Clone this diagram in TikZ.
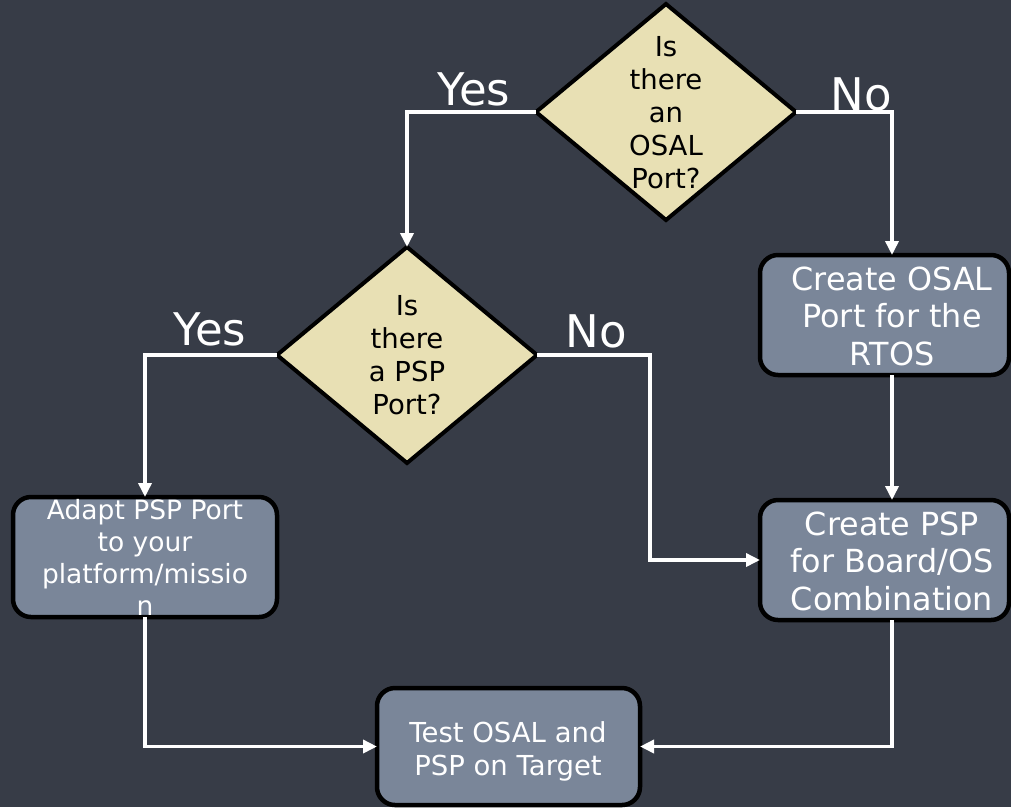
\documentclass[tikz,border=0pt]{standalone}
\usepackage{fontspec}
\setmainfont{DejaVu Sans}
\usetikzlibrary{shapes.geometric,arrows.meta}
\definecolor{bg}{HTML}{373C47}
\definecolor{boxfill}{HTML}{7A8699}
\definecolor{dfill}{HTML}{E8E0B4}
\begin{document}
\begin{tikzpicture}[x=1pt,y=-1pt,
  decision/.style={diamond,draw=black,line width=4pt,fill=dfill,inner sep=0pt,outer sep=0pt,minimum width=260pt,minimum height=216pt},
  procbox/.style={rectangle,rounded corners=18pt,draw=black,line width=4.5pt,fill=boxfill,inner sep=0pt,outer sep=0pt,minimum width=249pt,minimum height=120pt},
  dtext/.style={text=black,align=center,inner sep=0pt,font=\fontsize{27.5}{33}\selectfont},
  btext/.style={text=white,align=center,inner sep=0pt},
  lbl/.style={text=white,anchor=base,inner sep=0pt,font=\fontsize{45}{50}\selectfont},
  conn/.style={draw=white,line width=3.5pt,-{Triangle[length=14pt,width=13pt]}}]
\fill[bg] (0,0) rectangle (1011,807);
\useasboundingbox (0,0) rectangle (1011,807);
% decisions
\node[decision] (d1) at (666,112) {};
\node[dtext] (d1t) at (666,112.5) {Is\\there\\an\\OSAL\\Port?};
\node[decision] (d2) at (407,355) {};
\node[dtext] (d2t) at (407,355.5) {Is\\there\\a PSP\\Port?};
% boxes
\node[procbox] (osal) at (884.5,315) {};
\node[btext,font=\fontsize{31.8}{37.5}\selectfont] (osalt) at (892,316) {Create OSAL\\Port for the\\RTOS};
\node[procbox] (psp) at (884.5,560) {};
\node[btext,font=\fontsize{31.8}{37.5}\selectfont] (pspt) at (892,561) {Create PSP\\for Board/OS\\Combination};
\node[procbox,minimum width=264pt] (adapt) at (145,557) {};
\node[btext,font=\fontsize{26.5}{32}\selectfont] (adaptt) at (145,557.5) {Adapt PSP Port\\to your\\platform/missio\\n};
\node[procbox,minimum width=263pt,minimum height=117pt] (test) at (508.5,746.5) {};
\node[btext,font=\fontsize{27.5}{33}\selectfont] (testt) at (508,751) {Test OSAL and\\PSP on Target};
% labels
\node[lbl] (y1) at (474,105) {Yes};
\node[lbl] (n1) at (861,110) {No};
\node[lbl] (y2) at (210,345) {Yes};
\node[lbl] (n2) at (596,347) {No};
% connectors
\draw[conn] (d1.west) -| (d2.north);
\draw[conn] (d1.east) -| ([xshift=7.5pt]osal.north);
\draw[conn] (d2.west) -| (adapt.north);
\draw[conn] (d2.east) -- (650,355) |- (psp.west);
\draw[conn] ([xshift=7.5pt]osal.south) -- ([xshift=7.5pt]psp.north);
\draw[conn] (adapt.south) |- (test.west);
\draw[conn] ([xshift=7.5pt]psp.south) |- (test.east);
\end{tikzpicture}
\end{document}
